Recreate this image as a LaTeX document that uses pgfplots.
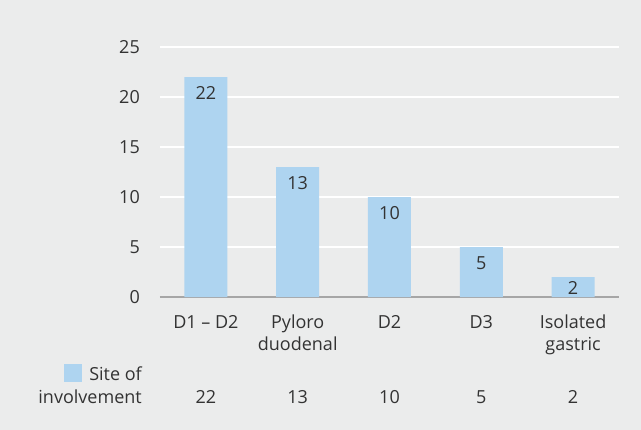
\documentclass[border=0pt]{standalone}
\usepackage{fontspec}
\setmainfont{Open Sans}
\usepackage{pgfplots}
\pgfplotsset{compat=1.18}
\definecolor{bg}{HTML}{EBECEC}
\definecolor{barblue}{HTML}{AED4F0}
\definecolor{axisgray}{HTML}{A6A6A6}
\definecolor{txt}{HTML}{333333}
\begin{document}
\fontsize{18bp}{22bp}\selectfont
\begin{tikzpicture}[text=txt]
  \fill[bg] (-160bp,-133bp) rectangle (481bp,297bp);
  \begin{axis}[
    at={(0,0)}, anchor=south west,
    scale only axis,
    width=459bp, height=250bp,
    xmin=-0.5, xmax=4.5,
    ymin=0, ymax=25,
    ytick={0,5,...,25},
    xtick={0,...,4},
    xticklabels={D1 -- D2, Pyloro\\duodenal, D2, D3, Isolated\\gastric},
    extra x ticks={0,...,4},
    extra x tick labels={22,13,10,5,2},
    extra x tick style={xticklabel style={yshift=-75bp}},
    xticklabel style={align=center, anchor=north, yshift=-12bp},
    yticklabel style={xshift=-14bp},
    /pgf/number format/assume math mode=true,
    major tick length=0pt,
    axis lines*=left,
    axis line style={-},
    y axis line style={draw=none},
    x axis line style={draw=axisgray, line width=2bp},
    ymajorgrids,
    grid style={white, line width=2.5bp},
    ybar,
    bar width=43bp,
    visualization depends on={y \as \rawy},
    nodes near coords,
    nodes near coords style={anchor=center, text=txt,
      yshift={\rawy<3 ? -11 : -16}},
    font=\fontsize{18bp}{22bp}\selectfont,
  ]
    \addplot[fill=barblue, draw=none] coordinates {
      (0,22) (1,13) (2,10) (3,5) (4,2)
    };
  \end{axis}
  \fill[barblue] (-96bp,-67bp) rectangle (-78bp,-85bp);
  \node[anchor=base east, inner sep=0pt,
    font=\fontsize{18bp}{22bp}\selectfont]
    at (-18bp,-83bp) {Site of};
  \node[anchor=base east, inner sep=0pt,
    font=\fontsize{18bp}{22bp}\selectfont]
    at (-18bp,-106bp) {involvement};
\end{tikzpicture}
\end{document}
